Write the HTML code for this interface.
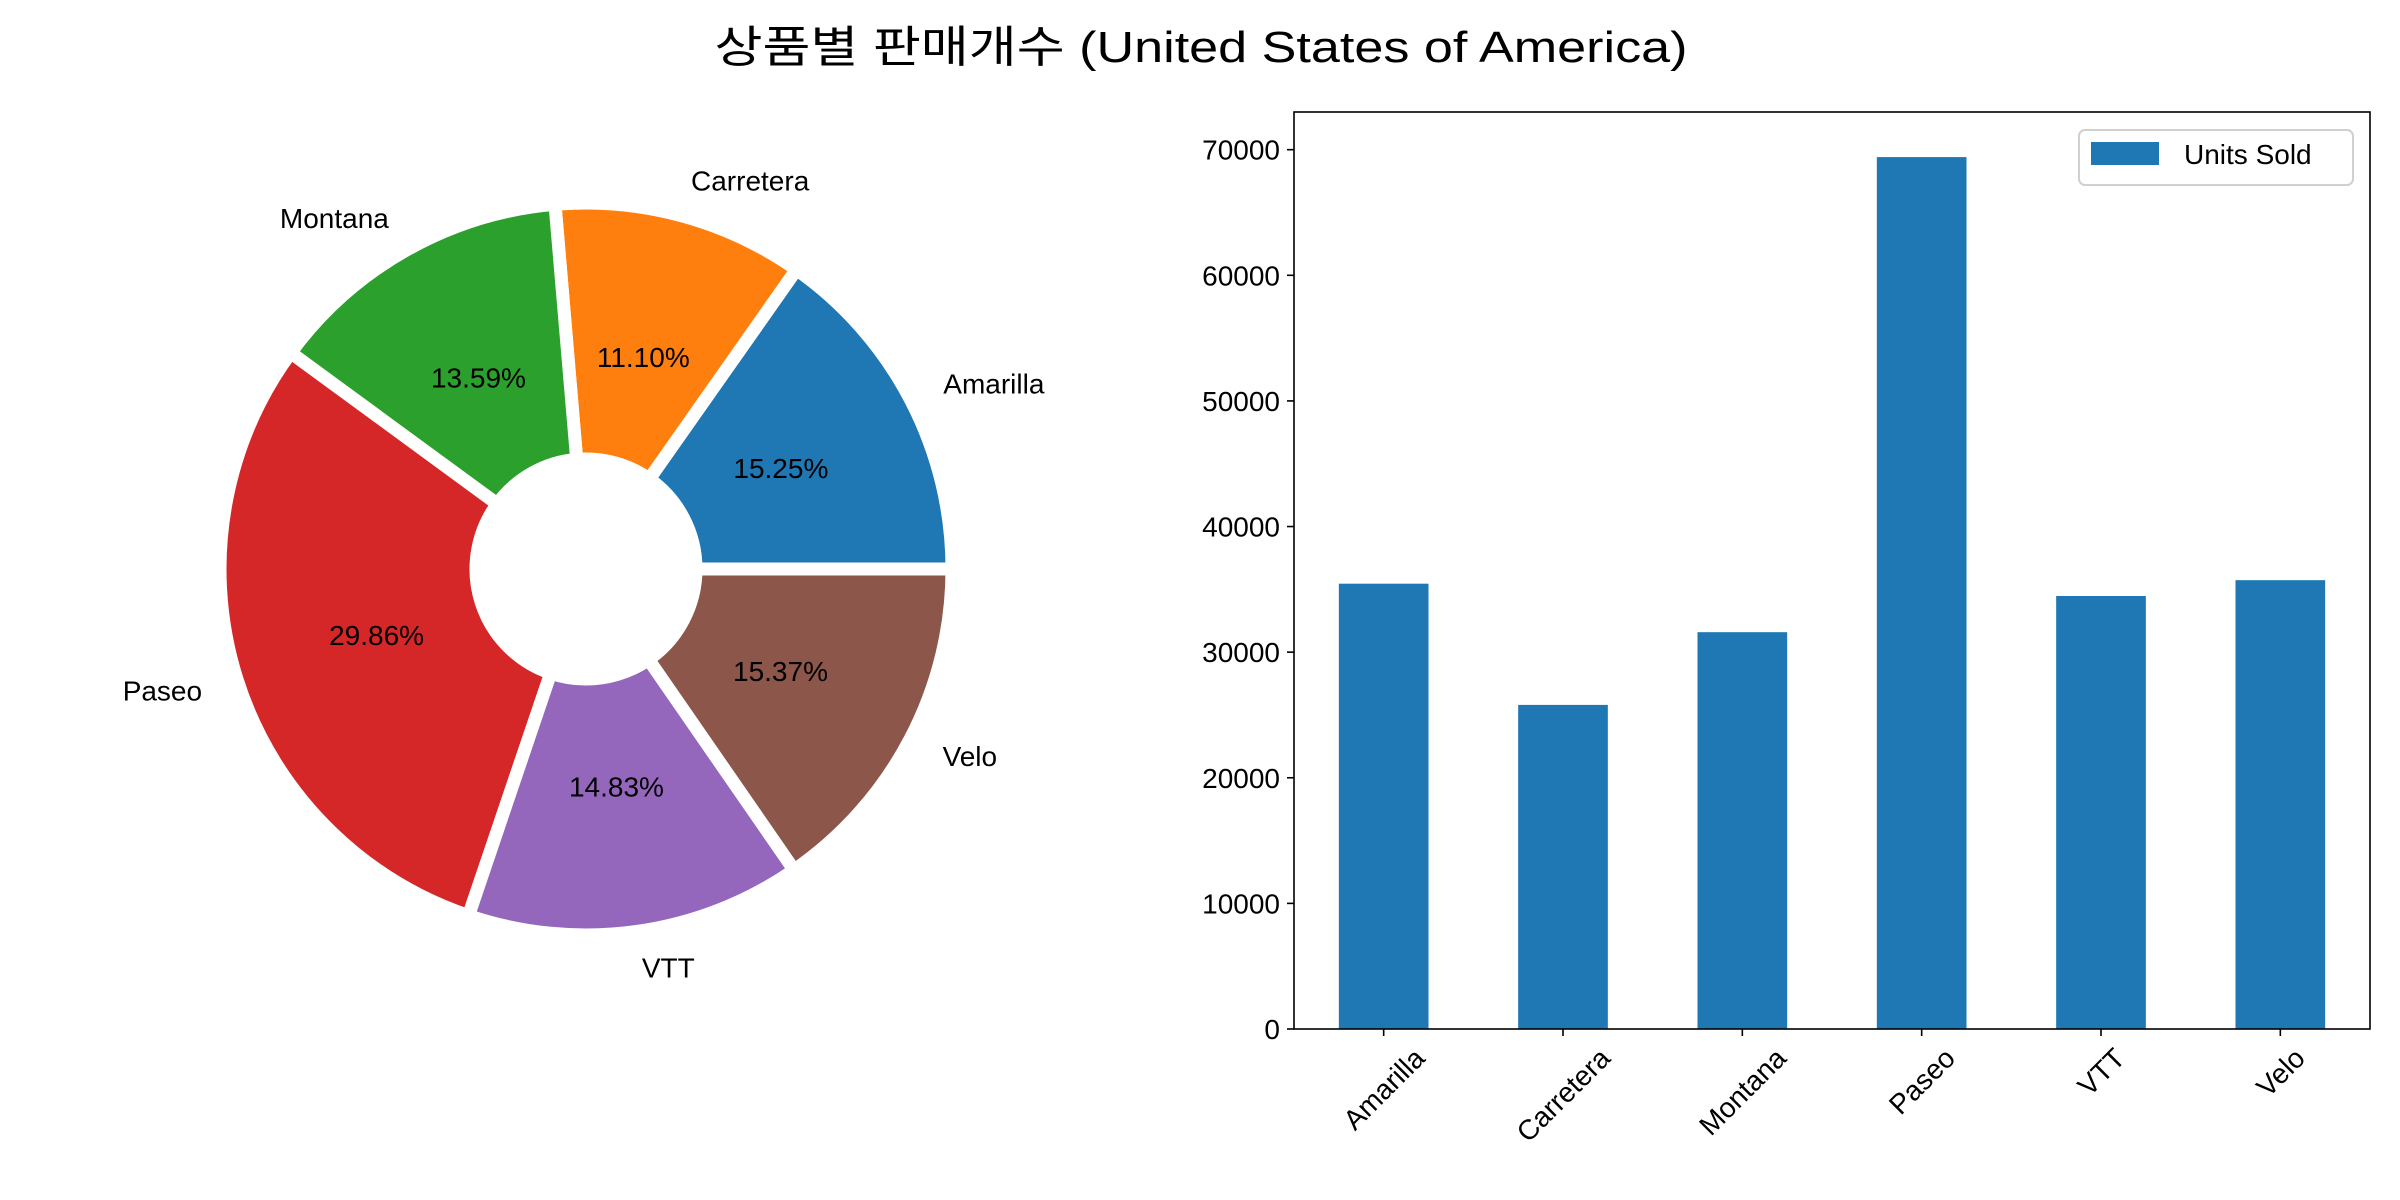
<!DOCTYPE html>
<html><head><meta charset="utf-8">
<style>
html,body{margin:0;padding:0;background:#fff;}
svg{display:block;font-family:"Liberation Sans","Noto Sans CJK KR",sans-serif;}
</style></head>
<body>
<svg id="fig" width="2400" height="1200" viewBox="0 0 2400 1200" xmlns="http://www.w3.org/2000/svg">
<rect width="2400" height="1200" fill="#fff"/>
<text x="1201" y="62" font-size="44" text-anchor="middle" textLength="973" lengthAdjust="spacingAndGlyphs">상품별 판매개수 (United States of America)</text>
<g id="pie"></g>
<g id="bar"></g>
</svg>
<script>
const categories = ["Amarilla","Carretera","Montana","Paseo","VTT","Velo"];
const unitsSold = [35450, 25800, 31590, 69410, 34470, 35730];
const yTicks = [0,10000,20000,30000,40000,50000,60000,70000];
const colors = ["#1f77b4","#ff7f0e","#2ca02c","#d62728","#9467bd","#8c564b"];

const NS="http://www.w3.org/2000/svg";
function mk(tag, attrs, parent){const e=document.createElementNS(NS,tag);for(const k in attrs)e.setAttribute(k,attrs[k]);parent.appendChild(e);return e;}

// ---- Pie ----
const pie=document.getElementById('pie');
const cx=586, cy=569, R=366, r0=110;
const total=unitsSold.reduce((a,b)=>a+b,0);
let ang=0;
unitsSold.forEach((v,i)=>{
  const frac=v/total, a0=ang, a1=ang+frac*2*Math.PI; ang=a1;
  const p=(a,rad)=>[cx+rad*Math.cos(a), cy-rad*Math.sin(a)];
  const [x0,y0]=p(a0,R),[x1,y1]=p(a1,R),[x2,y2]=p(a1,r0),[x3,y3]=p(a0,r0);
  const large=(a1-a0)>Math.PI?1:0;
  const w=mk('path',{d:`M${x0},${y0} A${R},${R} 0 ${large} 0 ${x1},${y1} L${x2},${y2} A${r0},${r0} 0 ${large} 1 ${x3},${y3} Z`,fill:colors[i],stroke:'#fff','stroke-width':13,'stroke-linejoin':'miter'},pie);
  
  
  const mid=(a0+a1)/2;
  const [lx,ly]=p(mid,R*1.1);
  const lt=mk('text',{x:lx,y:ly+10,'font-size':28,'text-anchor':Math.cos(mid)>=0?'start':'end'},pie);
  lt.textContent=categories[i];
  
  
  const [px,py]=p(mid,R*0.6);
  const pt=mk('text',{x:px,y:py+10,'font-size':28,'text-anchor':'middle'},pie);
  pt.textContent=(frac*100).toFixed(2)+'%';
  
  
});

// ---- Bar ----
const bar=document.getElementById('bar');
const L=1294,Rr=2370,T=112,B=1029;
const yMax=73000;
const ys=v=>B-(v/yMax)*(B-T);
const step=(Rr-L)/categories.length;
const xc=i=>L+step*(i+0.5);
unitsSold.forEach((v,i)=>{
  const b=mk('rect',{x:xc(i)-step*0.25,y:ys(v),width:step*0.5,height:B-ys(v),fill:colors[0]},bar);
  
  
});
yTicks.forEach(t=>{
  const y=ys(t);
  const tk=mk('line',{x1:L-7,x2:L,y1:y,y2:y,stroke:'#000','stroke-width':1.6},bar);
  
  
  const tl=mk('text',{x:L-14,y:y+10,'font-size':28,'text-anchor':'end'},bar);
  tl.textContent=t;
  
  
});
categories.forEach((c,i)=>{
  const x=xc(i);
  const tk=mk('line',{x1:x,x2:x,y1:B,y2:B+7,stroke:'#000','stroke-width':1.6},bar);
  
  
  const tl=mk('text',{x:x,y:B,'font-size':28,'text-anchor':'middle'},bar);
  tl.textContent=c;
  
  
  const len=tl.getComputedTextLength();
  const cyy=B+14+(len*Math.SQRT1_2+28*Math.SQRT1_2)/2;
  tl.setAttribute('y',cyy+10);
  tl.setAttribute('transform',`rotate(-45 ${x} ${cyy})`);
});
const frame=mk('rect',{x:L,y:T,width:Rr-L,height:B-T,fill:'none',stroke:'#000','stroke-width':1.6},bar);


const lg=mk('g',{},bar);


mk('rect',{x:2079,y:130,width:274,height:55,rx:6,fill:'#fff',stroke:'#d0d0d0','stroke-width':2},lg);
const sw=mk('rect',{x:2091,y:142,width:68,height:23,fill:colors[0]},lg);


const lt=mk('text',{x:2184,y:164,'font-size':28},lg);
lt.textContent='Units Sold';


</script>
</body></html>
